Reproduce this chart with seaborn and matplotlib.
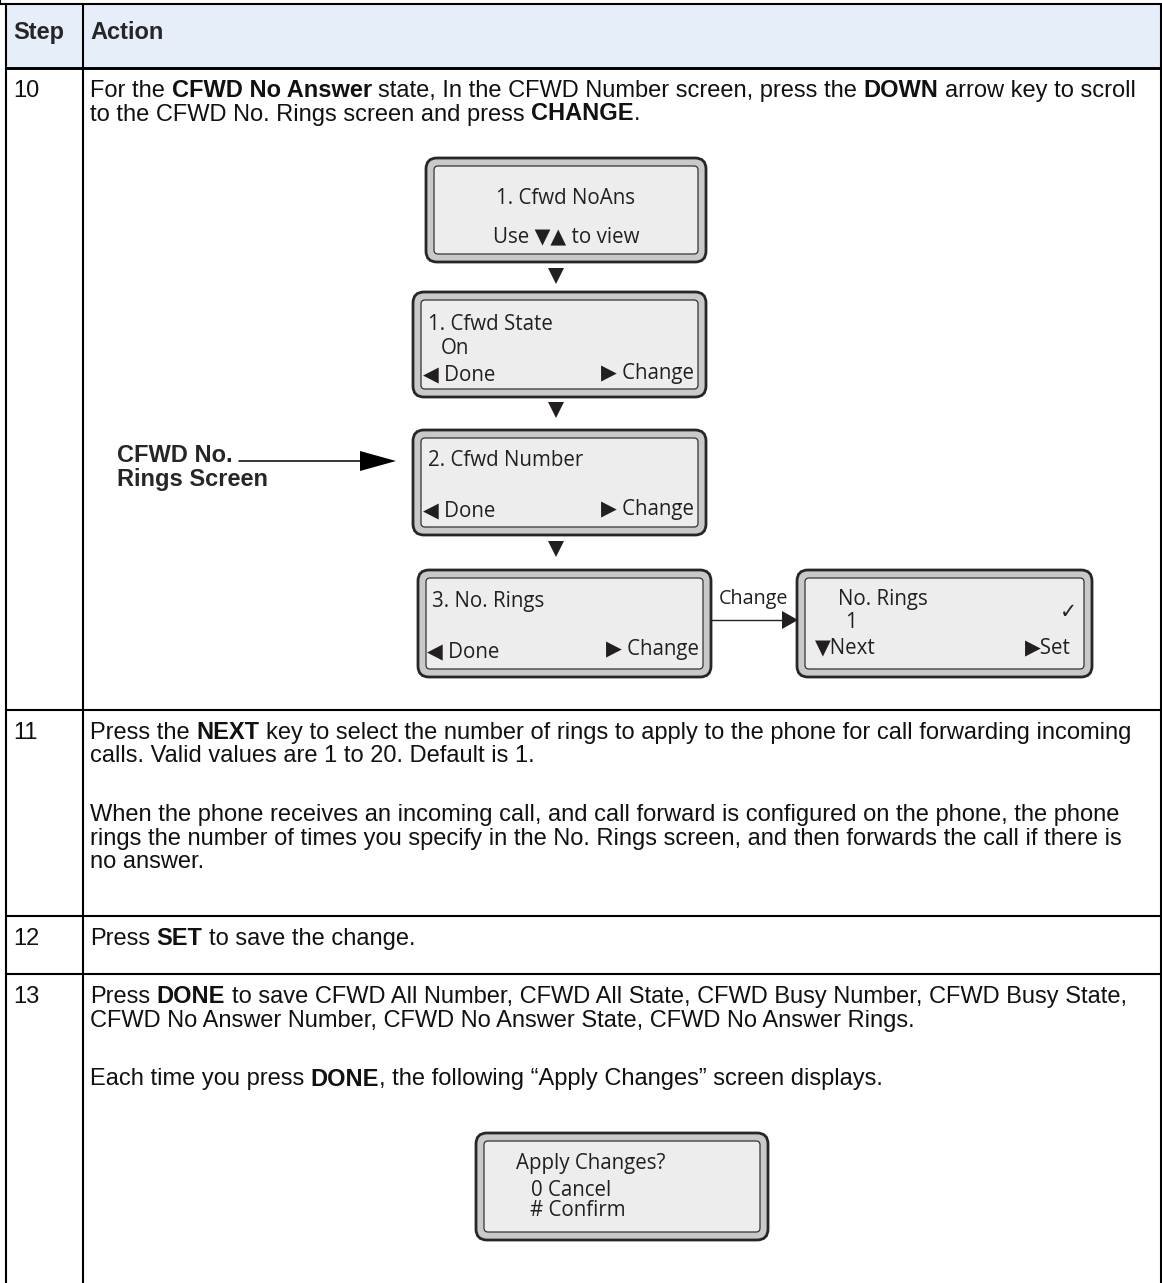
import matplotlib
matplotlib.use("Agg")
import matplotlib.pyplot as plt
import seaborn as sns
from matplotlib.patches import FancyBboxPatch, Rectangle, Polygon

sns.set_theme(style="white")
plt.rcParams['font.family'] = ['Liberation Sans', 'DejaVu Sans']

# ---------------- data ----------------
header = ["Step", "Action"]
steps = ["10", "11", "12", "13"]
row_tops = [68, 710, 916, 974]

step10_lines = [
    [("For the ", False), ("CFWD No Answer", True),
     (" state, In the CFWD Number screen, press the ", False), ("DOWN", True),
     (" arrow key to scroll", False)],
    [("to the CFWD No. Rings screen and press ", False), ("CHANGE", True), (".", False)],
]
step11_lines = [
    [("Press the ", False), ("NEXT", True),
     (" key to select the number of rings to apply to the phone for call forwarding incoming", False)],
    [("calls. Valid values are 1 to 20. Default is 1.", False)],
    None,
    [("When the phone receives an incoming call, and call forward is configured on the phone, the phone", False)],
    [("rings the number of times you specify in the No. Rings screen, and then forwards the call if there is", False)],
    [("no answer.", False)],
]
step12_lines = [
    [("Press ", False), ("SET", True), (" to save the change.", False)],
]
step13_lines = [
    [("Press ", False), ("DONE", True),
     (" to save CFWD All Number, CFWD All State, CFWD Busy Number, CFWD Busy State,", False)],
    [("CFWD No Answer Number, CFWD No Answer State, CFWD No Answer Rings.", False)],
    None,
    [("Each time you press ", False), ("DONE", True),
     (", the following \u201cApply Changes\u201d screen displays.", False)],
]
step_texts = [step10_lines, step11_lines, step12_lines, step13_lines]

callout_label = ["CFWD No.", "Rings Screen"]
connector_label = "Change"

# screens: (x0, y0, x1, y1), [(text, x, y, ha)]
screens = [
    ((426, 158, 706, 262), [("1. Cfwd NoAns", 566, 199, "center"),
                            ("Use \u25BC\u25B2 to view", 566, 237, "center")]),
    ((413, 292, 706, 397), [("1. Cfwd State", 428, 324, "left"),
                            ("On", 441, 349, "left"),
                            ("\u25C0 Done", 423, 375, "left"),
                            ("\u25B6 Change", 694, 373, "right")]),
    ((413, 430, 706, 535), [("2. Cfwd Number", 428, 461, "left"),
                            ("\u25C0 Done", 423, 511, "left"),
                            ("\u25B6 Change", 694, 509, "right")]),
    ((418, 570, 711, 677), [("3. No. Rings", 432, 601, "left"),
                            ("\u25C0 Done", 427, 652, "left"),
                            ("\u25B6 Change", 699, 650, "right")]),
    ((797, 570, 1092, 677), [("No. Rings", 838, 600, "left"),
                             ("1", 845, 623, "left"),
                             ("\u2713", 1068, 612, "center"),
                             ("\u25BCNext", 815, 648, "left"),
                             ("\u25B6Set", 1071, 648, "right")]),
    ((476, 1133, 768, 1240), [("Apply Changes?", 516, 1163, "left"),
                              ("0 Cancel", 531, 1191, "left"),
                              ("# Confirm", 530, 1210, "left")]),
]

# ---------------- figure ----------------
W, H = 1162, 1283
fig = plt.figure(figsize=(W / 100, H / 100), dpi=100)
ax = fig.add_axes([0, 0, 1, 1])
ax.set_xlim(0, W)
ax.set_ylim(H, 0)
ax.axis('off')
sns.despine(ax=ax, left=True, bottom=True)
renderer = fig.canvas.get_renderer()

BODY = 17.0
SCREEN_FONT = ['Open Sans', 'DejaVu Sans']
SCREEN_SIZE = 14.8

LW = 1.5
X_L, X_M, X_R = 6, 83, 1161
TOP = 4

# header fill
ax.add_patch(Rectangle((X_L, TOP), X_R - X_L, row_tops[0] - TOP,
                       facecolor="#E6EEF9", edgecolor="none", zorder=0))
# horizontal lines
ax.plot([0, X_R], [TOP, TOP], color="black", lw=LW)
ax.plot([0, 0], [0, TOP], color="black", lw=LW)
for i, yt in enumerate(row_tops):
    ax.plot([X_L, X_R], [yt, yt], color="black", lw=LW * (1.4 if i == 0 else 1.0))
# vertical lines
for xv in (X_L, X_M, X_R):
    ax.plot([xv, xv], [TOP, H + 5], color="black", lw=LW)


def text_width(s, **kw):
    t = ax.text(0, 0, s, **kw)
    w = t.get_window_extent(renderer=renderer).width
    t.remove()
    return w


space_w = text_width("x x", fontsize=BODY) - text_width("xx", fontsize=BODY)


def draw_runs(x, y, parts, size=BODY):
    for txt, bold in parts:
        lead = len(txt) - len(txt.lstrip(" "))
        trail = len(txt) - len(txt.rstrip(" "))
        x += lead * space_w
        core = txt.strip(" ")
        if core:
            t = ax.text(x, y, core, fontsize=size,
                        fontweight='bold' if bold else 'normal',
                        va='baseline', ha='left', color="#111111")
            x += t.get_window_extent(renderer=renderer).width
        x += trail * space_w


# header
ax.text(13, 39, header[0], fontsize=BODY, fontweight='bold', va='baseline')
ax.text(90, 39, header[1], fontsize=BODY, fontweight='bold', va='baseline')

# rows
LINE = 23.5
PARA = 12
for step, top, lines in zip(steps, row_tops, step_texts):
    base = top + 29
    ax.text(13, base, step, fontsize=BODY, va='baseline', color="#111111")
    extra = 0
    for k, ln in enumerate(lines):
        if ln is None:
            extra += PARA
            continue
        draw_runs(90, base + k * LINE + extra, ln)

# screens
for (x0, y0, x1, y1), items in screens:
    outer = FancyBboxPatch((x0, y0), x1 - x0, y1 - y0,
                           boxstyle="round,pad=0,rounding_size=11",
                           facecolor="#C9C9C9", edgecolor="#262626", lw=2.0, zorder=2)
    ax.add_patch(outer)
    inset = 8
    inner = FancyBboxPatch((x0 + inset, y0 + inset), x1 - x0 - 2 * inset, y1 - y0 - 2 * inset,
                           boxstyle="round,pad=0,rounding_size=4",
                           facecolor="#EDEDED", edgecolor="#333333", lw=0.9, zorder=3)
    ax.add_patch(inner)
    for txt, tx, ty, ha in items:
        ax.text(tx, ty, txt, fontsize=SCREEN_SIZE, family=SCREEN_FONT,
                ha=ha, va='center', color="#231F20", zorder=4)

# down arrows between stacked screens
for ya in (276, 410, 549):
    ax.plot([556], [ya], marker='v', markersize=12, color="#231F20",
            markeredgewidth=0, zorder=4)

# callout label with arrow
ax.text(117, 462, callout_label[0], fontsize=BODY, fontweight='bold', va='baseline')
ax.text(117, 486, callout_label[1], fontsize=BODY, fontweight='bold', va='baseline')
lab_w = text_width(callout_label[0], fontsize=BODY, fontweight='bold')
ax.plot([117 + lab_w + 6, 362], [461, 461], color="black", lw=1.1)
ax.add_patch(Polygon([[360, 451], [396, 461], [360, 471]], closed=True,
                     facecolor="black", edgecolor="none"))

# connector between screen 4 and 5
ax.plot([711, 784], [620, 620], color="#231F20", lw=1.0, zorder=4)
ax.add_patch(Polygon([[782, 611], [798, 620], [782, 629]], closed=True,
                     facecolor="#231F20", edgecolor="none", zorder=4))
ax.text(754, 599, connector_label, fontsize=14.2, family=SCREEN_FONT,
        ha='center', va='center', color="#231F20")

fig.savefig("out.png", dpi=100)
